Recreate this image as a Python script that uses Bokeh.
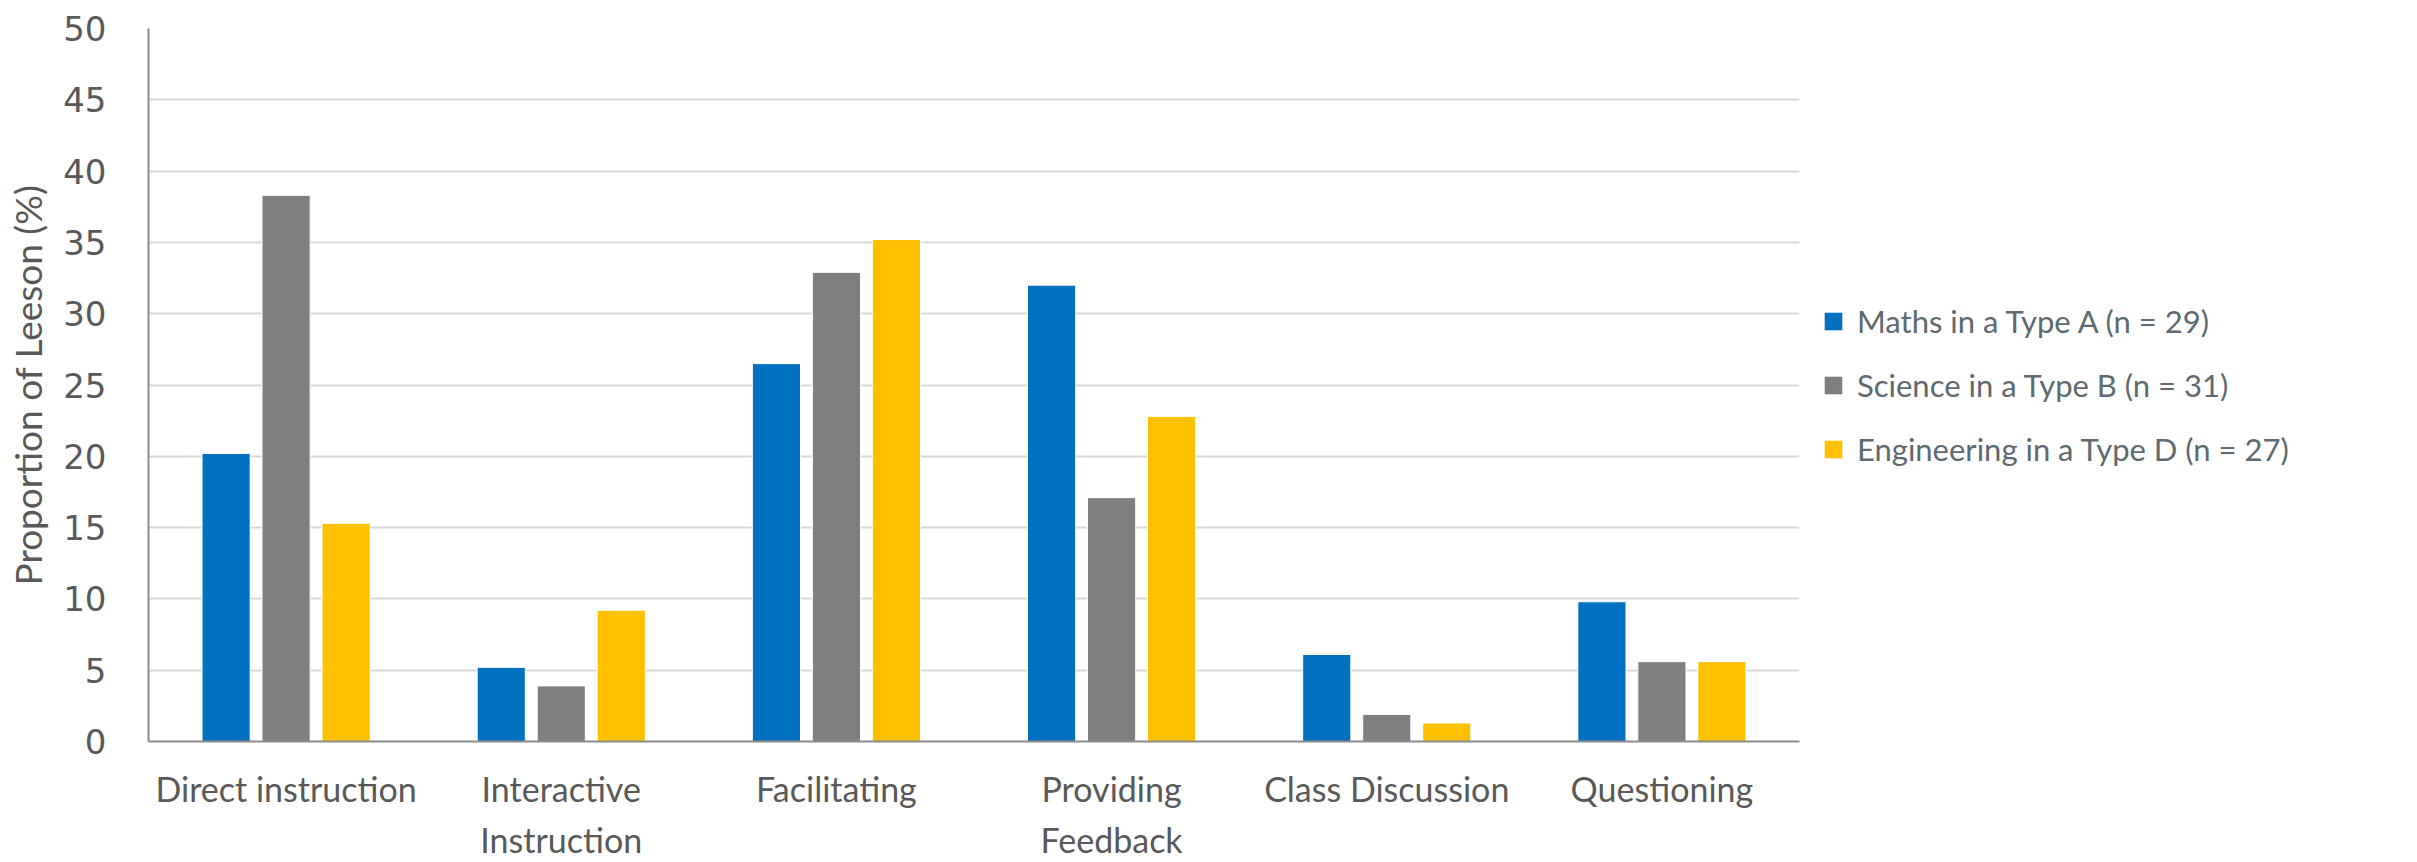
from bokeh.plotting import figure
from bokeh.layouts import row
from bokeh.models import (ColumnDataSource, FactorRange, Range1d, Legend, LegendItem,
                          SingleIntervalTicker)
from bokeh.transform import dodge
from bokeh.embed import file_html
from bokeh.resources import INLINE

categories = ["Direct instruction", "Interactive\nInstruction", "Facilitating",
              "Providing\nFeedback", "Class Discussion", "Questioning"]
series_names = ["Maths in a Type A (n = 29)", "Science in a Type B (n = 31)",
                "Engineering in a Type D (n = 27)"]
maths = [20.2, 5.2, 26.5, 32.0, 6.1, 9.8]
science = [38.3, 3.9, 32.9, 17.1, 1.9, 5.6]
engineering = [15.3, 9.2, 35.2, 22.8, 1.3, 5.6]
colors = ["#0070C0", "#7F7F7F", "#FFC000"]
series_keys = ["maths", "science", "engineering"]

FONT = "Lato"
TEXT_COLOR = "#595959"

source = ColumnDataSource(dict(cat=categories, maths=maths, science=science, engineering=engineering))

p = figure(x_range=FactorRange(*categories, range_padding=0), y_range=Range1d(0, 50),
           width=1800, height=862, output_backend="svg", toolbar_location=None,
           min_border_left=148, min_border_top=28, min_border_bottom=117, min_border_right=1)
p.outline_line_color = None
p.background_fill_color = "white"
p.border_fill_color = "white"

bw = 0.175
offs = [-0.218, 0.0, 0.218]
for key, off, col in zip(series_keys, offs, colors):
    p.vbar(x=dodge("cat", off, range=p.x_range), top=key, width=bw, source=source,
           fill_color=col, line_color="white", line_width=1)

p.xgrid.grid_line_color = None
p.ygrid.grid_line_color = "#D9D9D9"
p.ygrid.grid_line_width = 2
p.yaxis.ticker = SingleIntervalTicker(interval=5)
p.yaxis.axis_line_color = "#8C8C8C"
p.yaxis.axis_line_width = 2
p.xaxis.axis_line_color = "#8C8C8C"
p.xaxis.axis_line_width = 2
for ax in (p.xaxis, p.yaxis):
    ax.major_tick_line_color = None
    ax.minor_tick_line_color = None
    ax.major_label_text_color = TEXT_COLOR
    ax.axis_label_text_color = TEXT_COLOR

p.yaxis.major_label_text_font = "DejaVu Sans"
p.yaxis.major_label_text_font_size = "34px"
p.yaxis.major_label_standoff = 36
p.yaxis.axis_label = "Proportion of Leeson (%)"
p.yaxis.axis_label_text_font = FONT
p.yaxis.axis_label_text_font_size = "37px"
p.yaxis.axis_label_text_font_style = "normal"
p.yaxis.axis_label_standoff = 10

p.xaxis.major_label_text_font = FONT
p.xaxis.major_label_text_font_size = "34px"
p.xaxis.major_label_standoff = 20
p.xaxis.major_label_text_line_height = 1.25

# legend panel: same data, drawn against a value range that keeps the bars out of view
lg = figure(width=617, height=862, output_backend="svg", toolbar_location=None,
            x_range=FactorRange(*categories), y_range=Range1d(1000, 1001),
            min_border_left=0, min_border_right=0, min_border_top=0, min_border_bottom=0)
lg.axis.visible = False
lg.grid.grid_line_color = None
lg.outline_line_color = None
lg.border_fill_color = "white"
lg.background_fill_color = "white"
lg_renderers = []
for key, col in zip(series_keys, colors):
    r = lg.vbar(x="cat", top=key, width=1e-6, source=source, fill_color=col, line_color=None)
    lg_renderers.append(r)

legend = Legend(items=[LegendItem(label=n, renderers=[r]) for n, r in zip(series_names, lg_renderers)],
                location=(22, 273), border_line_color=None, background_fill_alpha=0,
                glyph_width=22, glyph_height=22, label_text_font=FONT,
                label_text_font_size="31px", label_text_color="#5E6A71", spacing=26,
                label_standoff=13, padding=0, margin=0)
lg.add_layout(legend, "center")

layout = row(p, lg, spacing=0)
open("out.html", "w").write(file_html(layout, INLINE))
